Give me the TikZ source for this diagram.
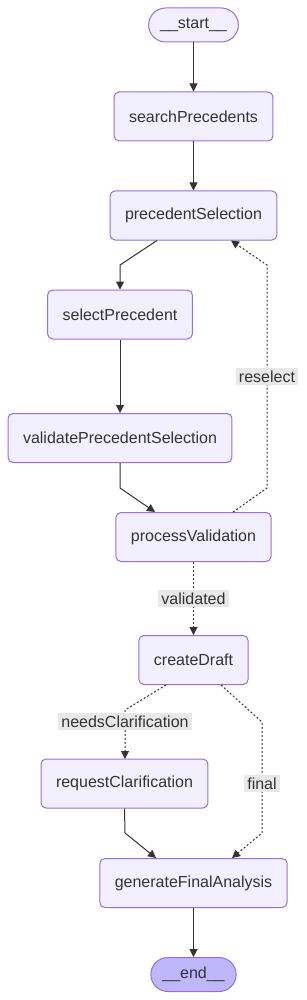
\documentclass[tikz,border=0pt]{standalone}
\usepackage{fontspec}
\setmainfont{Liberation Sans}
\usetikzlibrary{arrows.meta,calc}
\definecolor{nodefill}{HTML}{F2F0FF}
\definecolor{nodeline}{HTML}{9370DB}
\definecolor{endfill}{HTML}{BFB6FC}
\definecolor{txt}{HTML}{333333}
\definecolor{lblbg}{HTML}{E8E8E8}
\tikzset{
  box/.style={draw=nodeline, fill=nodefill, line width=1pt, rounded corners=5pt,
    minimum height=49pt, inner xsep=15pt, text=txt, font=\fontsize{16}{19}\selectfont},
  pill/.style={draw=nodeline, fill=nodefill, line width=1pt, rounded corners=17pt,
    minimum height=34pt, inner xsep=11.5pt, text=txt, font=\fontsize{16}{19}\selectfont},
  edge/.style={draw=txt, line width=1pt, -{Triangle[length=8pt,width=8pt]}},
  dotedge/.style={edge, dash pattern=on 2pt off 2pt},
  lbl/.style={fill=lblbg, text=txt, inner xsep=3pt, inner ysep=3pt, font=\fontsize{16}{19}\selectfont}
}
\begin{document}
\begin{tikzpicture}[x=1pt,y=-1pt]
\useasboundingbox (0,0) rectangle (307,1000);
\node[pill] (st) at (193.5,25) {\_\_start\_\_};
\node[box] (sr) at (193.5,116.5) {searchPrecedents};
\node[box] (ps) at (193.5,215.5) {precedentSelection};
\node[box] (sp) at (120,314.5) {selectPrecedent};
\node[box] (vp) at (120,438) {validatePrecedentSelection};
\node[box] (pv) at (193.5,537) {processValidation};
\node[box] (cd) at (193.5,660) {createDraft};
\node[box] (rc) at (124.5,783.5) {requestClarification};
\node[box] (gf) at (193.5,883) {generateFinalAnalysis};
\node[pill, fill=endfill] (en) at (193.5,974.5) {\_\_end\_\_};

\draw[edge] (st) -- (sr);
\draw[edge] (sr) -- (ps);
\draw[edge] ($(ps.south)+(-36.5,0)$) -- (120,265) -- (sp);
\draw[edge] (sp) -- (vp);
\draw[edge] (vp.south) -- (120,488) -- ($(pv.north)+(-38.5,0)$);
\draw[dotedge] ($(pv.north)+(39.5,0)$) -- (267,488) -- (267,265) -- ($(ps.south)+(37.5,0)$);
\node[lbl] (l1) at (267,376.5) {reselect};
\draw[dotedge] (pv) -- (cd);
\node[lbl] (l2) at (193.5,598.5) {validated};
\draw[dotedge] ($(cd.south)+(-27.5,0)$) -- (125,710) -- (125,759);
\node[lbl] (l3) at (125,721.5) {needsClarification};
\draw[dotedge] ($(cd.south)+(27.5,0)$) -- (262,722) -- (262,833) -- ($(gf.north)+(38.5,0)$);
\node[lbl] (l4) at (262,783.5) {final};
\draw[edge] (rc.south) -- (125,833) -- ($(gf.north)+(-37.5,0)$);
\draw[edge] (gf) -- (en);
\end{tikzpicture}
\end{document}
